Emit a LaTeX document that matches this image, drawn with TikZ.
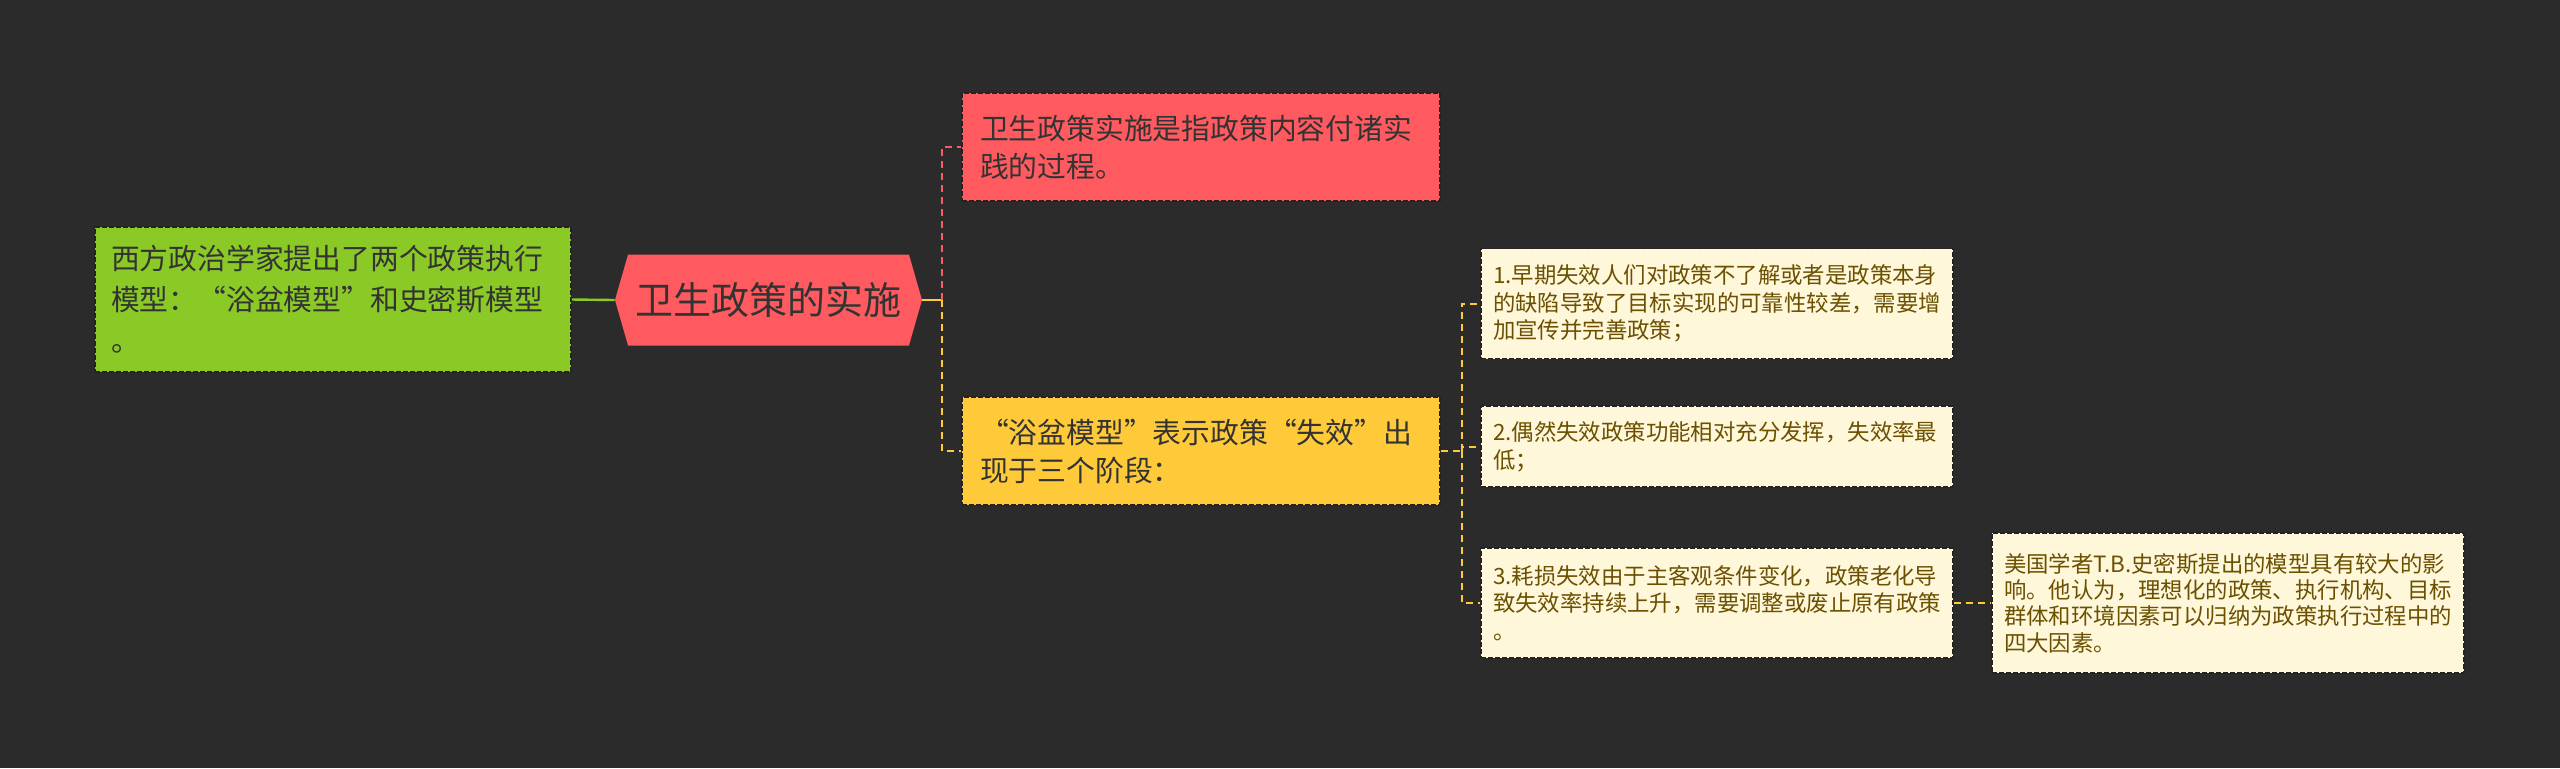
\documentclass[tikz,border=0pt]{standalone}
\usepackage{fontspec}
\newfontfamily\cjk{Noto Sans CJK SC}
\usetikzlibrary{shapes.symbols}
\definecolor{MapBack}{HTML}{2B2B2B}
\definecolor{MapEdge}{HTML}{262222}
\definecolor{MapRed}{HTML}{FF5A5F}
\definecolor{MapGreen}{HTML}{8AC926}
\definecolor{MapYellow}{HTML}{FFCA3A}
\definecolor{MapCream}{HTML}{FFF7DA}
\definecolor{MapInk}{HTML}{333333}
\definecolor{MapBrown}{HTML}{6B5000}

\tikzset{
  box/.style={draw=MapEdge,dash pattern=on 2.5pt off 1pt,line width=0.8pt,align=left,inner ysep=0pt,text=MapInk},
  greenbox/.style={box,fill=MapGreen,text width=222pt,inner xsep=8pt,minimum height=72.5pt,font=\cjk\fontsize{14.4}{20.5}\selectfont},
  redbox/.style={box,fill=MapRed,text width=221pt,inner xsep=9pt,minimum height=54pt,font=\cjk\fontsize{14.4}{19}\selectfont},
  yellowbox/.style={redbox,fill=MapYellow},
  creambox/.style={box,fill=MapCream,text=MapBrown,text width=224pt,inner xsep=6pt,font=\cjk\fontsize{11.2}{13.9}\selectfont},
  hexbox/.style={signal,signal to=east and west,signal pointer angle=148,fill=MapRed,text=MapInk,minimum width=153.5pt,minimum height=45.5pt,inner sep=0pt,font=\cjk\fontsize{19}{22}\selectfont},
  link/.style={line width=1pt,dash pattern=on 3.5pt off 2.5pt},
}

\begin{document}
\begin{tikzpicture}[x=0.5pt,y=-0.5pt]
  \fill[MapBack] (0,0) rectangle (2560,768);
  \useasboundingbox (0,0) rectangle (2560,768);
  \node[hexbox] (root) at (768.5,300) {卫生政策的实施};
  \node[greenbox] (model) at (333,299.5) {西方政治学家提出了两个政策执行\\模型：“浴盆模型”和史密斯模型\\。};
  \node[redbox] (define) at (1201,147) {卫生政策实施是指政策内容付诸实\\践的过程。};
  \node[yellowbox] (tub) at (1201,451) {“浴盆模型”表示政策“失效”出\\现于三个阶段：};
  \node[creambox,minimum height=55pt] (early) at (1717,303.5) {1.早期失效人们对政策不了解或者是政策本身\\的缺陷导致了目标实现的可靠性较差，需要增\\加宣传并完善政策；};
  \node[creambox,minimum height=40.5pt] (chance) at (1717,446.5) {2.偶然失效政策功能相对充分发挥，失效率最\\低；};
  \node[creambox,minimum height=55pt] (wear) at (1717,603) {3.耗损失效由于主客观条件变化，政策老化导\\致失效率持续上升，需要调整或废止原有政策\\。};
  \node[creambox,minimum height=70pt,font=\cjk\fontsize{11.2}{13.2}\selectfont] (smith) at (2228,603) {美国学者T.B.史密斯提出的模型具有较大的影\\响。他认为，理想化的政策、执行机构、目标\\群体和环境因素可以归纳为政策执行过程中的\\四大因素。};

  \draw[MapGreen,line width=1.2pt] (model.east) -- (root.west);
  \draw[MapYellow,line width=1pt] (root.east) -- ++(20,0) coordinate (hub);
  \draw[link,MapRed] (hub) |- (define.west);
  \draw[link,MapYellow] (hub) |- (tub.west);
  \draw[link,MapYellow] (tub.east) -- ++(21,0) coordinate (fork);
  \foreach \n in {early,chance,wear}{\draw[link,MapYellow] (fork) |- (\n.west);}
  \draw[link,MapYellow] (wear.east) -- (smith.west);
\end{tikzpicture}
\end{document}
